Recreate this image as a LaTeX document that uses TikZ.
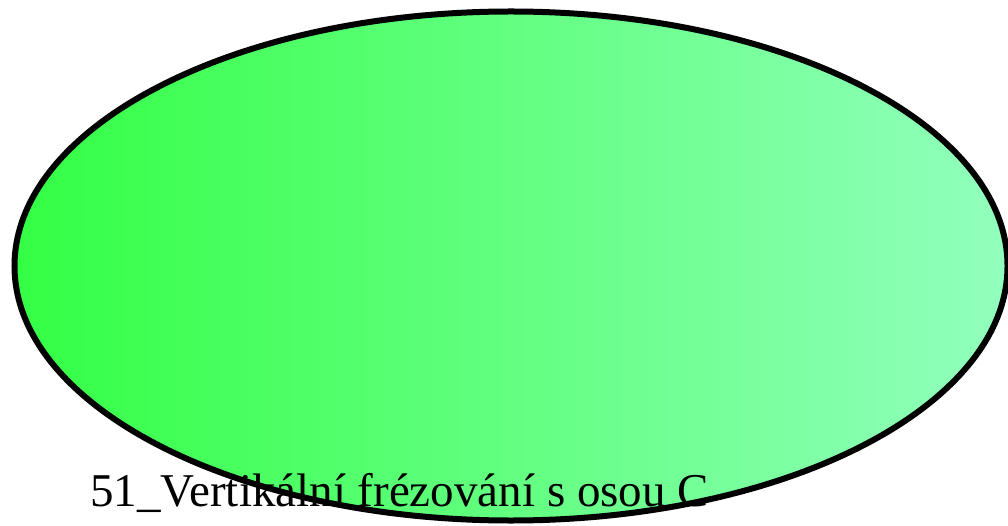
\documentclass[tikz,border=0pt]{standalone}
\usepackage{fontspec}
\setmainfont{Liberation Serif}
\usetikzlibrary{shapes.geometric}
\definecolor{gl}{RGB}{51,255,68}
\definecolor{gr}{RGB}{146,255,190}
\tikzset{
  blob/.style={ellipse, draw=black, line width=6pt, left color=gl, right color=gr, minimum width=993pt, minimum height=509pt, inner sep=0pt, outer sep=0pt},
  lbl/.style={anchor=base west, inner sep=0pt, font=\fontsize{47}{56}\selectfont}
}
\begin{document}
\begin{tikzpicture}[x=1pt,y=-1pt]
\useasboundingbox (0,0) rectangle (1008,526);
\node[blob] (e) at (511,266) {};
\node[lbl] (t) at (90,506) {51\_Vertikální frézování s osou C};
\end{tikzpicture}
\end{document}
